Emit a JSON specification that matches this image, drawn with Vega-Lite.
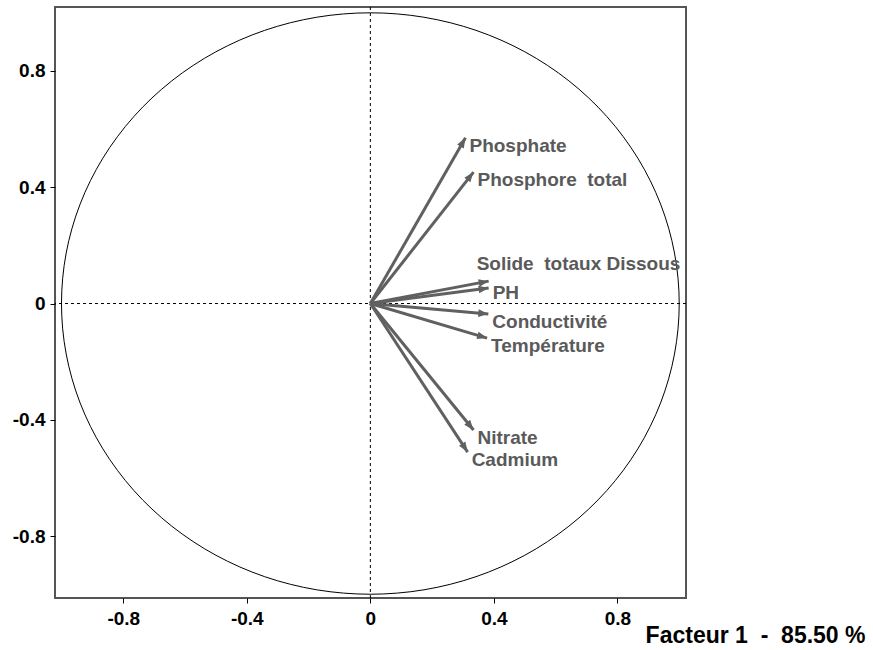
{
  "$schema": "https://vega.github.io/schema/vega-lite/v6.json",
  "autosize": "none",
  "width": 631,
  "height": 591,
  "padding": {"left": 55, "top": 7, "right": 187, "bottom": 52},
  "background": "white",
  "config": {
    "view": {"stroke": "#555555", "strokeWidth": 2},
    "font": "Liberation Sans"
  },
  "datasets": {
    "vars": [
      {"name": "Phosphate", "x": 0.308, "y": 0.570},
      {"name": "Phosphore\u00a0 total", "x": 0.334, "y": 0.452},
      {"name": "Solide\u00a0 totaux Dissous", "x": 0.383, "y": 0.077},
      {"name": "PH", "x": 0.383, "y": 0.053},
      {"name": "Conductivité", "x": 0.382, "y": -0.036},
      {"name": "Température", "x": 0.378, "y": -0.119},
      {"name": "Nitrate", "x": 0.334, "y": -0.435},
      {"name": "Cadmium", "x": 0.315, "y": -0.511}
    ],
    "circle": [
      {"a": 0, "x": 1.0, "y": 0.0},
      {"a": 10, "x": 0.9848, "y": 0.1736},
      {"a": 20, "x": 0.9397, "y": 0.342},
      {"a": 30, "x": 0.866, "y": 0.5},
      {"a": 40, "x": 0.766, "y": 0.6428},
      {"a": 50, "x": 0.6428, "y": 0.766},
      {"a": 60, "x": 0.5, "y": 0.866},
      {"a": 70, "x": 0.342, "y": 0.9397},
      {"a": 80, "x": 0.1736, "y": 0.9848},
      {"a": 90, "x": 0.0, "y": 1.0},
      {"a": 100, "x": -0.1736, "y": 0.9848},
      {"a": 110, "x": -0.342, "y": 0.9397},
      {"a": 120, "x": -0.5, "y": 0.866},
      {"a": 130, "x": -0.6428, "y": 0.766},
      {"a": 140, "x": -0.766, "y": 0.6428},
      {"a": 150, "x": -0.866, "y": 0.5},
      {"a": 160, "x": -0.9397, "y": 0.342},
      {"a": 170, "x": -0.9848, "y": 0.1736},
      {"a": 180, "x": -1.0, "y": 0.0},
      {"a": 190, "x": -0.9848, "y": -0.1736},
      {"a": 200, "x": -0.9397, "y": -0.342},
      {"a": 210, "x": -0.866, "y": -0.5},
      {"a": 220, "x": -0.766, "y": -0.6428},
      {"a": 230, "x": -0.6428, "y": -0.766},
      {"a": 240, "x": -0.5, "y": -0.866},
      {"a": 250, "x": -0.342, "y": -0.9397},
      {"a": 260, "x": -0.1736, "y": -0.9848},
      {"a": 270, "x": 0.0, "y": -1.0},
      {"a": 280, "x": 0.1736, "y": -0.9848},
      {"a": 290, "x": 0.342, "y": -0.9397},
      {"a": 300, "x": 0.5, "y": -0.866},
      {"a": 310, "x": 0.6428, "y": -0.766},
      {"a": 320, "x": 0.766, "y": -0.6428},
      {"a": 330, "x": 0.866, "y": -0.5},
      {"a": 340, "x": 0.9397, "y": -0.342},
      {"a": 350, "x": 0.9848, "y": -0.1736}
    ]
  },
  "layer": [
    {
      "data": {"name": "circle"},
      "mark": {"type": "line", "color": "black", "strokeWidth": 1, "interpolate": "cardinal-closed"},
      "encoding": {
        "x": {
          "field": "x", "type": "quantitative",
          "scale": {"domain": [-1.021, 1.022], "nice": false, "zero": false},
          "axis": {
            "values": [-0.8, -0.4, 0, 0.4, 0.8],
            "labelExpr": "toString(datum.value)",
            "domain": false, "grid": false,
            "tickColor": "black", "tickSize": 5, "tickWidth": 1,
            "labelFont": "Liberation Sans", "labelFontWeight": "bold", "labelFontSize": 19, "labelColor": "black",
            "labelPadding": 6,
            "title": "Facteur 1\u00a0\u00a0- \u00a085.50 %",
            "titleFont": "Liberation Sans", "titleFontWeight": "bold", "titleFontSize": 23, "titleColor": "black",
            "titleAnchor": null, "titleAlign": "right", "titleBaseline": "alphabetic",
            "titleX": 810, "titleY": 44
          }
        },
        "y": {
          "field": "y", "type": "quantitative",
          "scale": {"domain": [-1.013, 1.02], "nice": false, "zero": false},
          "axis": {
            "values": [-0.8, -0.4, 0, 0.4, 0.8],
            "labelExpr": "toString(datum.value)",
            "domain": false, "grid": false,
            "tickColor": "black", "tickSize": 5, "tickWidth": 1,
            "labelFont": "Liberation Sans", "labelFontWeight": "bold", "labelFontSize": 19, "labelColor": "black",
            "labelPadding": 5,
            "title": null
          }
        },
        "order": {"field": "a", "type": "quantitative"}
      }
    },
    {
      "data": {"values": [{"v": 0}]},
      "mark": {"type": "rule", "color": "black", "strokeWidth": 1, "strokeDash": [3, 3]},
      "encoding": {"x": {"field": "v", "type": "quantitative"}}
    },
    {
      "data": {"values": [{"v": 0}]},
      "mark": {"type": "rule", "color": "black", "strokeWidth": 1, "strokeDash": [3, 3]},
      "encoding": {"y": {"field": "v", "type": "quantitative"}}
    },
    {
      "data": {"name": "vars"},
      "mark": {"type": "rule", "color": "#606060", "strokeWidth": 3},
      "encoding": {
        "x": {"field": "x", "type": "quantitative"},
        "y": {"field": "y", "type": "quantitative"},
        "x2": {"datum": 0},
        "y2": {"datum": 0}
      }
    },
    {
      "data": {"name": "vars"},
      "transform": [
        {"calculate": "atan2(datum.x * 308.9, datum.y * 290.7) * 180 / PI", "as": "ang"}
      ],
      "mark": {"type": "point", "shape": "M0,0 L0.38,1 L-0.38,1 Z", "filled": true, "color": "#606060", "opacity": 1, "size": 400, "strokeWidth": 0},
      "encoding": {
        "x": {"field": "x", "type": "quantitative"},
        "y": {"field": "y", "type": "quantitative"},
        "angle": {"field": "ang", "type": "quantitative", "scale": null}
      }
    },
    {
      "data": {"name": "vars"},
      "transform": [{"filter": "datum.name != 'PH' && indexof(datum.name, 'Solide') != 0"}],
      "mark": {"type": "text", "align": "left", "baseline": "middle", "dx": 4, "dy": 8, "font": "Liberation Sans", "fontWeight": "bold", "fontSize": 19, "color": "#5a5a5a"},
      "encoding": {
        "x": {"field": "x", "type": "quantitative"},
        "y": {"field": "y", "type": "quantitative"},
        "text": {"field": "name"}
      }
    },
    {
      "data": {"name": "vars"},
      "transform": [{"filter": "datum.name == 'PH'"}],
      "mark": {"type": "text", "align": "left", "baseline": "middle", "dx": 4, "dy": 5, "font": "Liberation Sans", "fontWeight": "bold", "fontSize": 19, "color": "#5a5a5a"},
      "encoding": {
        "x": {"field": "x", "type": "quantitative"},
        "y": {"field": "y", "type": "quantitative"},
        "text": {"field": "name"}
      }
    },
    {
      "data": {"name": "vars"},
      "transform": [{"filter": "indexof(datum.name, 'Solide') == 0"}],
      "mark": {"type": "text", "align": "left", "baseline": "middle", "dx": -12, "dy": -17, "font": "Liberation Sans", "fontWeight": "bold", "fontSize": 19, "color": "#5a5a5a"},
      "encoding": {
        "x": {"field": "x", "type": "quantitative"},
        "y": {"field": "y", "type": "quantitative"},
        "text": {"field": "name"}
      }
    }
  ]
}
